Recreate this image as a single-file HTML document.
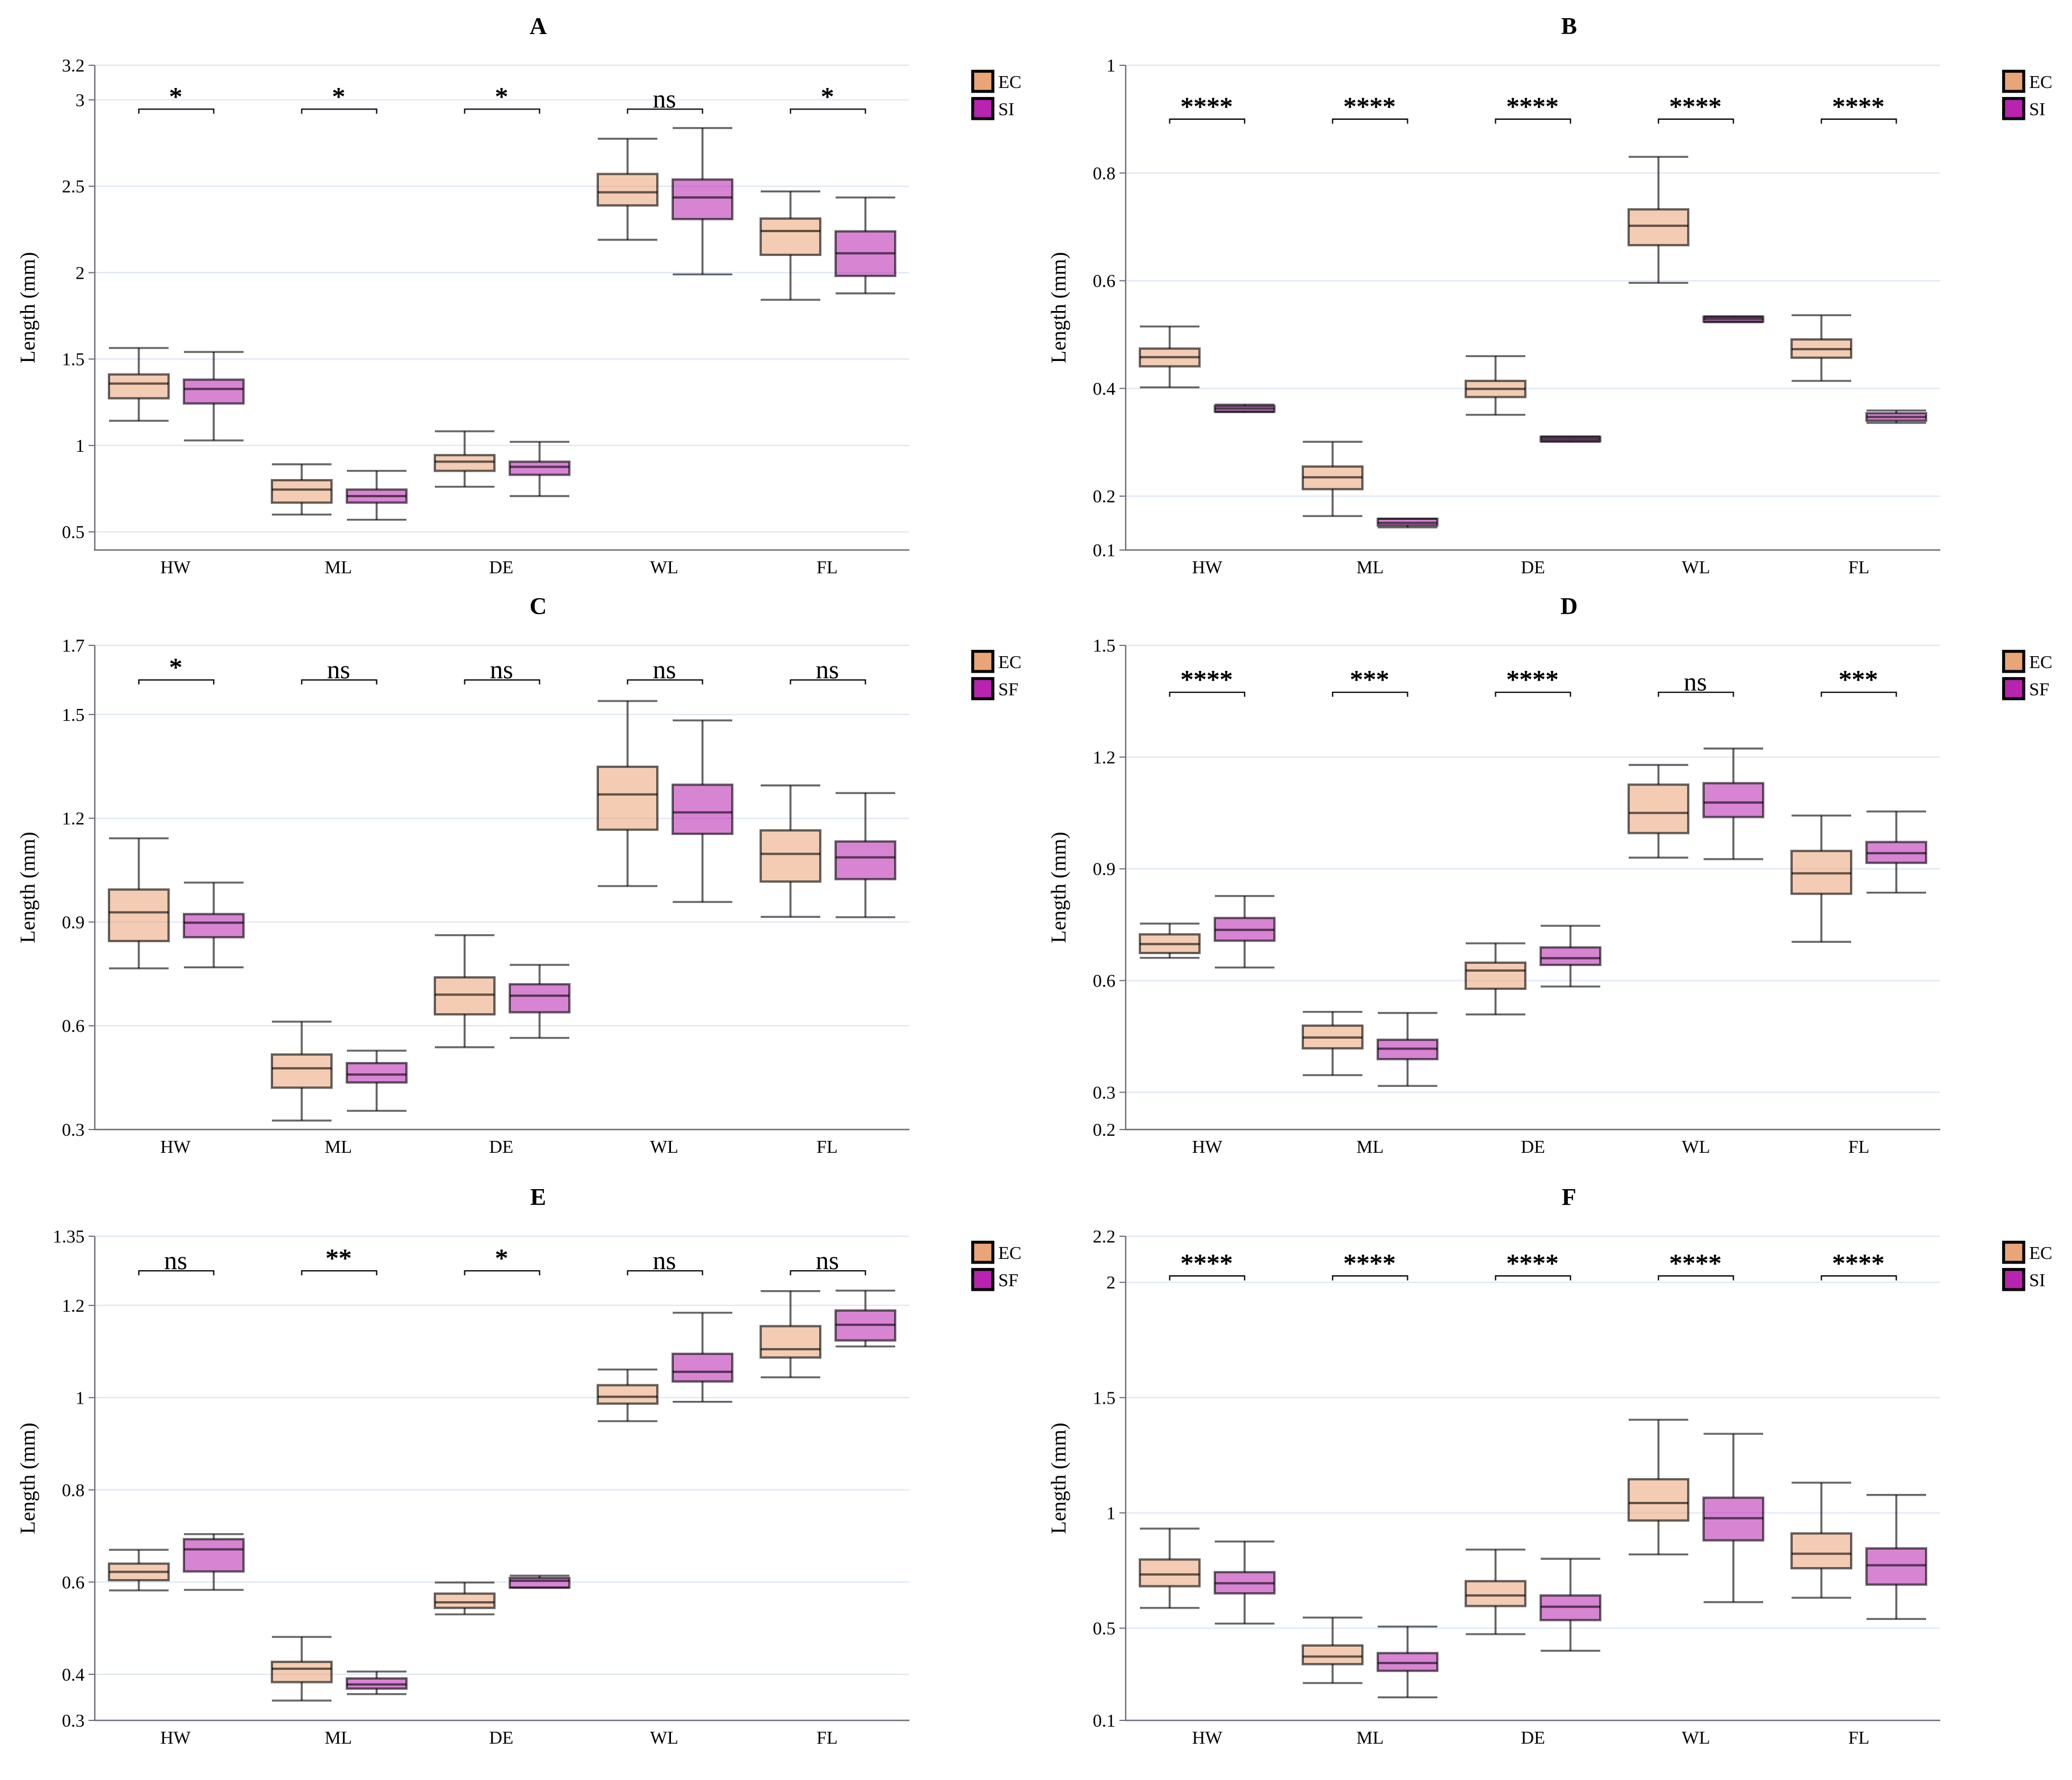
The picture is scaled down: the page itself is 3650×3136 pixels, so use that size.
<!DOCTYPE html>
<html lang="en">
<head>
<meta charset="utf-8">
<title>Length boxplots by trait, panels A to F</title>
<style>
html,body{margin:0;padding:0;background:#fff;}
svg{display:block;font-family:"Liberation Serif",serif;}
</style>
</head>
<body>
<svg id="figure" xmlns="http://www.w3.org/2000/svg" width="3650" height="3136" viewBox="0 0 3650 3136">
<rect x="0" y="0" width="3650" height="3136" fill="#ffffff"></rect>
</svg>
<script>
/* Shared labels */
const categories = ['HW', 'ML', 'DE', 'WL', 'FL'];
const yTitle = 'Length (mm)';

/* Each row: upper whisker, Q3, median, Q1, lower whisker, in category order */
const aEC = [[1.564,1.411,1.358,1.273,1.143],[.891,.799,.745,.669,.6],[1.082,.944,.906,.853,.761],[2.775,2.571,2.465,2.389,2.19],[2.47,2.313,2.241,2.103,1.843]];
const aSI = [[1.541,1.381,1.327,1.243,1.029],[.853,.745,.707,.669,.57],[1.021,.906,.876,.83,.707],[2.837,2.539,2.435,2.31,1.99],[2.435,2.239,2.112,1.981,1.88]];
const aTicks = [.5,1,1.5,2,2.5,3,3.2];
const aDomain = [.395,3.2];
const aSig = ['*','*','*','ns','*'];
const aBracket = 2.946;

const bEC = [[.515,.474,.458,.441,.402],[.301,.255,.235,.213,.163],[.46,.414,.399,.384,.351],[.83,.7325,.702,.666,.596],[.536,.491,.473,.457,.414]];
const bSI = [[.370,.3676,.3627,.357,.356],[.158,.158,.1505,.1455,.142],[.311,.31,.306,.302,.301],[.534,.533,.529,.524,.523],[.359,.354,.347,.34,.336]];
const bTicks = [.1,.2,.4,.6,.8,1];
const bDomain = [.1,1];
const bSig = ['****','****','****','****','****'];
const bBracket = .9;

const cEC = [[1.142,.994,.928,.845,.766],[.612,.517,.477,.421,.326],[.862,.74,.69,.633,.538],[1.539,1.349,1.269,1.167,1.004],[1.295,1.165,1.097,1.017,.915]];
const cSF = [[1.014,.923,.898,.856,.769],[.528,.492,.459,.436,.354],[.776,.72,.687,.639,.565],[1.483,1.297,1.217,1.155,.958],[1.273,1.133,1.087,1.024,.914]];
const cTicks = [.3,.6,.9,1.2,1.5,1.7];
const cDomain = [.3,1.7];
const cSig = ['*','ns','ns','ns','ns'];
const cBracket = 1.6;

const dEC = [[.753,.724,.698,.674,.661],[.516,.479,.447,.418,.346],[.70,.648,.627,.578,.509],[1.179,1.126,1.05,.996,.93],[1.043,.948,.888,.833,.704]];
const dSF = [[.827,.768,.736,.707,.635],[.513,.441,.417,.389,.317],[.747,.689,.66,.642,.584],[1.223,1.13,1.078,1.039,.926],[1.054,.972,.942,.916,.836]];
const dTicks = [.2,.3,.6,.9,1.2,1.5];
const dDomain = [.2,1.5];
const dSig = ['****','***','****','ns','***'];
const dBracket = 1.374;

const eEC = [[.67,.64,.622,.604,.582],[.481,.427,.412,.383,.343],[.599,.575,.556,.544,.53],[1.061,1.027,1.002,.987,.949],[1.231,1.155,1.105,1.087,1.044]];
const eSF = [[.704,.693,.671,.623,.583],[.406,.391,.378,.369,.357],[.614,.609,.603,.588,.588],[1.184,1.095,1.056,1.035,.991],[1.232,1.189,1.158,1.124,1.111]];
const eTicks = [.3,.4,.6,.8,1,1.2,1.35];
const eDomain = [.3,1.35];
const eSig = ['ns','**','*','ns','ns'];
const eBracket = 1.275;

const fEC = [[.932,.798,.733,.682,.588],[.546,.425,.377,.344,.262],[.841,.704,.642,.596,.474],[1.404,1.146,1.043,.967,.82],[1.131,.911,.823,.76,.632]];
const fSI = [[.876,.743,.695,.651,.52],[.507,.392,.349,.315,.2],[.801,.642,.593,.535,.402],[1.343,1.066,.977,.881,.613],[1.078,.846,.773,.689,.54]];
const fTicks = [.1,.5,1,1.5,2,2.2];
const fDomain = [.1,2.2];
const fSig = ['****','****','****','****','****'];
const fBracket = 2.028;

const panels = [
  {title:'A', second:'SI', ec:aEC, other:aSI, ticks:aTicks, domain:aDomain, sig:aSig, bracket:aBracket, left:167,  top:115,  bottom:969,  labelShift:-1.5},
  {title:'B', second:'SI', ec:bEC, other:bSI, ticks:bTicks, domain:bDomain, sig:bSig, bracket:bBracket, left:1983, top:115,  bottom:969,  labelShift:0},
  {title:'C', second:'SF', ec:cEC, other:cSF, ticks:cTicks, domain:cDomain, sig:cSig, bracket:cBracket, left:167,  top:1137, bottom:1990, labelShift:-1.5},
  {title:'D', second:'SF', ec:dEC, other:dSF, ticks:dTicks, domain:dDomain, sig:dSig, bracket:dBracket, left:1983, top:1137, bottom:1990, labelShift:0},
  {title:'E', second:'SF', ec:eEC, other:eSF, ticks:eTicks, domain:eDomain, sig:eSig, bracket:eBracket, left:167,  top:2178, bottom:3031, labelShift:-1.5},
  {title:'F', second:'SI', ec:fEC, other:fSI, ticks:fTicks, domain:fDomain, sig:fSig, bracket:fBracket, left:1983, top:2178, bottom:3031, labelShift:0}
];

const NS = 'http://www.w3.org/2000/svg';
const svg = document.getElementById('figure');
const plotWidth = 1435;
const boxOffset = 66;
const boxWidth = 105;
const AXIS = '#6f7079';
const GRID = '#e1e8f4';
const ecColor = '#e9a477';
const otherColor = '#b823b0';

function mk(tag, parent, attrs, text) {
  const el = document.createElementNS(NS, tag);
  for (const k in attrs) el.setAttribute(k, attrs[k]);
  if (text !== undefined) el.textContent = text;
  parent.appendChild(el);
  return el;
}

function yScale(domain, top, bottom) {
  return function (v) {
    return bottom - (v - domain[0]) / (domain[1] - domain[0]) * (bottom - top);
  };
}

function bandCenter(left, i) {
  return left + (i + 0.5) * plotWidth / categories.length;
}

function drawBox(parent, row, cx, y, fill, cat, series) {
  const g = mk('g', parent, {});
  
  
  const stem = mk('line', g, {x1:cx, x2:cx, y1:y(row[0]), y2:y(row[1]), stroke:'#000', 'stroke-opacity':.6, 'stroke-width':3.6});
  
  
  const stemLow = mk('line', g, {x1:cx, x2:cx, y1:y(row[3]), y2:y(row[4]), stroke:'#000', 'stroke-opacity':.6, 'stroke-width':3.6});
  
  
  const capHigh = mk('line', g, {x1:cx - boxWidth / 2, x2:cx + boxWidth / 2, y1:y(row[0]), y2:y(row[0]), stroke:'#000', 'stroke-opacity':.6, 'stroke-width':3.4});
  
  
  const capLow = mk('line', g, {x1:cx - boxWidth / 2, x2:cx + boxWidth / 2, y1:y(row[4]), y2:y(row[4]), stroke:'#000', 'stroke-opacity':.6, 'stroke-width':3.4});
  
  
  const rect = mk('rect', g, {x:cx - boxWidth / 2, y:y(row[1]), width:boxWidth, height:y(row[3]) - y(row[1]), fill:fill, 'fill-opacity':.56, stroke:'#000', 'stroke-opacity':.6, 'stroke-width':4});
  
  
  const med = mk('line', g, {x1:cx - boxWidth / 2, x2:cx + boxWidth / 2, y1:y(row[2]), y2:y(row[2]), stroke:'#000', 'stroke-opacity':.6, 'stroke-width':4});
  
  
}

panels.forEach(function (p) {
  const y = yScale(p.domain, p.top, p.bottom);
  const right = p.left + plotWidth;
  const panel = mk('g', svg, {});
  
  

  const title = mk('text', panel, {x:p.left + 781, y:p.top - 55, 'text-anchor':'middle', 'font-size':42, 'font-weight':'bold', fill:'#000'}, p.title);
  
  

  const midY = (p.top + p.bottom) / 2;
  const yLab = mk('text', panel, {x:0, y:0, transform:'translate(' + (p.left - 106) + ',' + midY + ') rotate(-90)', 'text-anchor':'middle', 'font-size':37, fill:'#000'}, yTitle);
  
  

  p.ticks.forEach(function (t) {
    const grid = mk('line', panel, {x1:p.left, x2:right, y1:y(t), y2:y(t), stroke:GRID, 'stroke-width':2.4});
    
    
    const mark = mk('line', panel, {x1:p.left - 11, x2:p.left, y1:y(t), y2:y(t), stroke:AXIS, 'stroke-width':2});
    
    
    const lab = mk('text', panel, {x:p.left - 18, y:y(t) + 11, 'text-anchor':'end', 'font-size':32, fill:'#000'}, String(t));
    
    
  });

  const yAxis = mk('line', panel, {x1:p.left, x2:p.left, y1:p.top, y2:p.bottom + 1, stroke:AXIS, 'stroke-width':2.4});
  
  
  const xAxis = mk('line', panel, {x1:p.left - 1.5, x2:right, y1:p.bottom, y2:p.bottom, stroke:AXIS, 'stroke-width':2.4});
  
  

  categories.forEach(function (cat, i) {
    const cx = bandCenter(p.left, i);
    const xl = mk('text', panel, {x:cx + p.labelShift, y:p.bottom + 41, 'text-anchor':'middle', 'font-size':32, fill:'#000'}, cat);
    
    

    const by = y(p.bracket);
    const br = mk('path', panel, {d:'M' + (cx - boxOffset) + ' ' + (by + 8) + 'V' + by + 'H' + (cx + boxOffset) + 'V' + (by + 8), fill:'none', stroke:'#000', 'stroke-width':2.2});
    
    
    const isStars = p.sig[i] !== 'ns';
    const sig = mk('text', panel, {x:cx - 1, y:by - (isStars ? 7 : 3), 'text-anchor':'middle', 'font-size':46, fill:'#000', stroke:isStars ? '#000' : 'none', 'stroke-width':isStars ? 0.9 : 0}, p.sig[i]);
    
    

    drawBox(panel, p.ec[i], cx - boxOffset, y, ecColor, cat, 'EC');
    drawBox(panel, p.other[i], cx + boxOffset, y, otherColor, cat, p.second);
  });

  const legend = mk('g', panel, {});
  
  
  [['EC', ecColor, 8], [p.second, otherColor, 56]].forEach(function (entry) {
    const sx = p.left + 1546.5;
    const sy = p.top + entry[2] + 2.5;
    const item = mk('g', legend, {});
    
    
    const sw = mk('rect', item, {x:sx, y:sy, width:35.5, height:35.5, fill:entry[1], stroke:'#000', 'stroke-width':5.2});
    
    
    const tx = mk('text', item, {x:p.left + 1591.5, y:sy + 29.5, 'font-size':32, fill:'#000'}, entry[0]);
    
    
  });
});
</script>
</body>
</html>
